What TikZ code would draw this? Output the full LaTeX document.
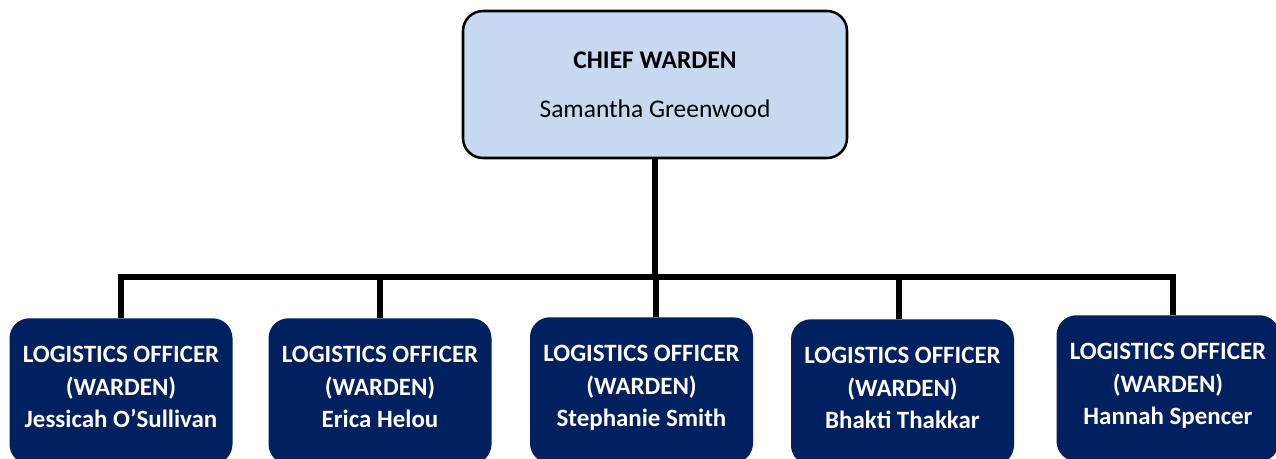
\documentclass[tikz,border=0pt]{standalone}
\usepackage{fontspec}
\setmainfont{Carlito}
\definecolor{lightbox}{HTML}{C6D9F1}
\definecolor{navybox}{HTML}{002060}
\begin{document}
\begin{tikzpicture}[x=0.75pt,y=-0.75pt,
  chiefbox/.style={draw=black,line width=1.9pt,fill=lightbox,rounded corners=15pt,
    minimum width=384*0.75pt,minimum height=147*0.75pt,align=center,inner sep=0pt,
    font=\fontsize{19.1pt}{36.5pt}\selectfont},
  wardenbox/.style={fill=navybox,rounded corners=15pt,text=white,
    minimum width=223*0.75pt,minimum height=146*0.75pt,align=center,inner sep=0pt,anchor=north,
    text height=55pt,text depth=0pt,
    font=\fontsize{18.7pt}{24.6pt}\selectfont\bfseries},
  link/.style={line width=3.8pt,black}]
\useasboundingbox (0,0) rectangle (1276,459);
\clip (0,0) rectangle (1276,459);
\node[chiefbox] (chief) at (655,84.5) {\textbf{CHIEF WARDEN}\\Samantha Greenwood};
\node[wardenbox] (w1) at (121,318) {LOGISTICS OFFICER\\(WARDEN)\\Jessicah O’Sullivan};
\node[wardenbox] (w2) at (380,318) {LOGISTICS OFFICER\\(WARDEN)\\Erica Helou};
\node[wardenbox] (w3) at (641.5,317) {LOGISTICS OFFICER\\(WARDEN)\\Stephanie Smith};
\node[wardenbox] (w4) at (902.5,319) {LOGISTICS OFFICER\\(WARDEN)\\Bhakti Thakkar};
\node[wardenbox] (w5) at (1168,315) {LOGISTICS OFFICER\\(WARDEN)\\Hannah Spencer};
\coordinate (bus) at (655,277);
\coordinate (d1) at (121,318);
\coordinate (d2) at (380,318);
\coordinate (d3) at (656,317);
\coordinate (d4) at (899,319);
\coordinate (d5) at (1173,315);
\draw[link] (chief.south) -- (bus);
\draw[link] (d1) |- (bus) -| (d5);
\draw[link] (d2) -- (d2 |- bus);
\draw[link] (d3) -- (d3 |- bus);
\draw[link] (d4) -- (d4 |- bus);
\end{tikzpicture}
\end{document}
